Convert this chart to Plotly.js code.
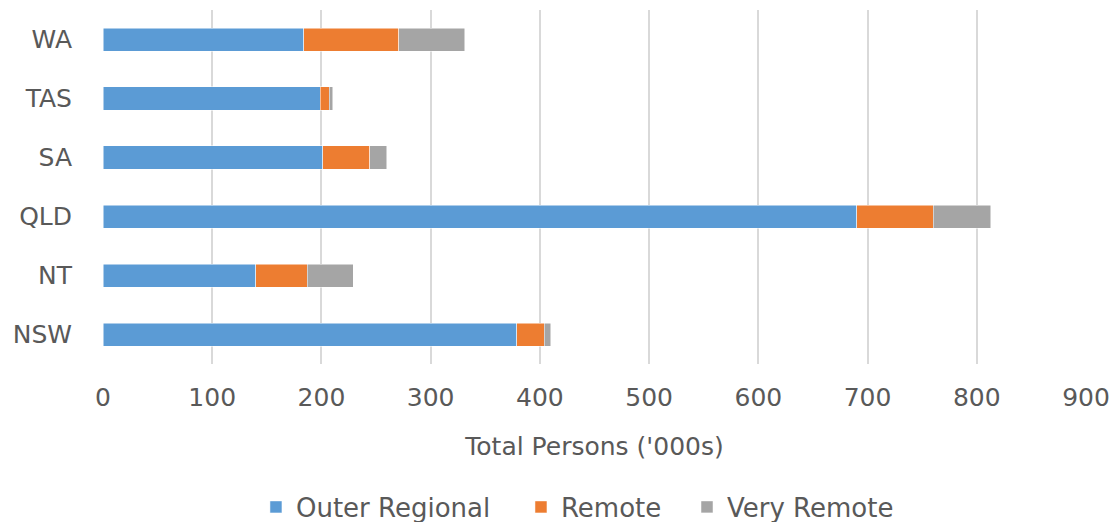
<!DOCTYPE html>
<html>
<head>
<meta charset="utf-8">
<script src="https://cdn.plot.ly/plotly-3.0.1.min.js"></script>
<style>
  html, body { margin: 0; padding: 0; background: #fff; }
  #chart { width: 1112px; height: 522px; }
</style>
</head>
<body>
<div id="chart"></div>
<script>
// States, listed bottom to top
const states = ['NSW', 'NT', 'QLD', 'SA', 'TAS', 'WA'];

// Population by remoteness ('000s)
const outerRegional = [379, 140, 690, 201, 199, 184];
const remote        = [25, 47, 70, 43, 8, 87];
const veryRemote    = [6, 42, 53, 16, 3.5, 60];

const xTicks = [0, 100, 200, 300, 400, 500, 600, 700, 800, 900];

const font = { family: 'DejaVu Sans, sans-serif', size: 25, color: '#595959' };
const legendFont = { family: 'DejaVu Sans, sans-serif', size: 26, color: '#595959' };

function series(name, values, color, legendId) {
  return {
    type: 'bar',
    orientation: 'h',
    name: name,
    y: states,
    x: values,
    legend: legendId,
    marker: { color: color, line: { color: '#ffffff', width: 0.5 } },
    hoverinfo: 'x+name'
  };
}

const data = [
  series('Outer Regional', outerRegional, '#5B9BD5', 'legend'),
  series('Remote', remote, '#ED7D31', 'legend2'),
  series('Very Remote', veryRemote, '#A5A5A5', 'legend3')
];

// one single-entry legend per series, laid out in a row under the axis title
function legendAt(x) {
  return {
    orientation: 'h',
    x: x, xanchor: 'left',
    y: -0.404, yanchor: 'middle',
    font: legendFont,
    itemwidth: 30,
    bgcolor: 'rgba(0,0,0,0)'
  };
}

const layout = {
  width: 1112,
  height: 522,
  margin: { l: 103, r: 26, t: 10, b: 158, autoexpand: false },
  paper_bgcolor: '#ffffff',
  plot_bgcolor: '#ffffff',
  font: font,
  barmode: 'stack',
  bargap: 0.61,
  showlegend: true,
  legend: legendAt(0.1556),
  legend2: legendAt(0.4252),
  legend3: legendAt(0.5941),
  xaxis: {
    range: [0, 900],
    tickvals: xTicks,
    ticktext: xTicks.map(String),
    showgrid: true,
    gridcolor: '#d9d9d9',
    gridwidth: 2,
    zeroline: false,
    showline: false,
    ticks: '',
    automargin: false,
    ticklabelstandoff: 16,
    tickfont: font,
    title: { text: "Total Persons ('000s)", font: font, standoff: 26 }
  },
  yaxis: {
    type: 'category',
    showgrid: false,
    zeroline: false,
    showline: false,
    ticks: '',
    automargin: false,
    ticklabelstandoff: 30,
    tickfont: font
  }
};

Plotly.newPlot('chart', data, layout, { displayModeBar: false, staticPlot: true });
</script>
</body>
</html>
